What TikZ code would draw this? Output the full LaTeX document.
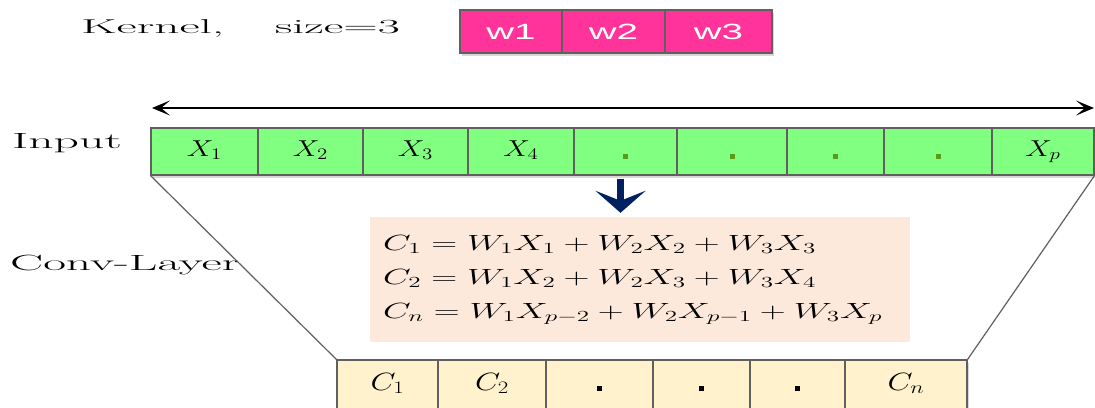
\RequirePackage{fix-cm}
\documentclass[tikz,border=0pt]{standalone}
\usepackage{fontspec}
\usepackage{graphicx}
\usepackage{tikz}
\usetikzlibrary{arrows.meta,positioning,shadows}
\newfontfamily\wfont{Liberation Sans}
\newcommand{\widen}[2]{\scalebox{#1}[1]{#2}}
\definecolor{Pink}{HTML}{FF3399}
\definecolor{Lime}{HTML}{80FF80}
\definecolor{Cream}{HTML}{FFF2CC}
\definecolor{Peach}{HTML}{FCE9DC}
\definecolor{Navy}{HTML}{002060}
\definecolor{Edge}{HTML}{606060}
\definecolor{Dot}{HTML}{5A9A1A}

\begin{document}
\begin{tikzpicture}[x=1pt,y=-1pt,
  cell/.style={rectangle,draw=Edge,line width=1.1pt,inner sep=0pt,drop shadow={opacity=0.3,shadow xshift=2pt,shadow yshift=-2.5pt}},
  wcell/.style={cell,fill=Pink,minimum height=43pt,text=white,font=\wfont\fontsize{22}{25}\selectfont},
  xcell/.style={cell,fill=Lime,minimum height=47pt,text height=16pt,text depth=6pt,font=\fontsize{23}{27}\selectfont},
  ccell/.style={cell,fill=Cream,minimum height=50pt,text height=16pt,text depth=6pt,font=\fontsize{25}{29}\selectfont},
  tag/.style={anchor=base west,inner sep=0pt,font=\fontsize{22}{26}\selectfont},
  eq/.style={anchor=base west,inner sep=0pt,font=\fontsize{22}{26}\selectfont},
  extent/.style={draw=black,line width=2.6pt,{Stealth[length=18pt,width=15pt,inset=9pt]}-{Stealth[length=18pt,width=15pt,inset=9pt]}},
  down/.style={draw=Navy,line width=6.5pt,-{Stealth[length=22pt,width=50pt,inset=10pt]}},
  side/.style={draw=Edge,line width=1.2pt}
]
\path[use as bounding box,fill=white] (0,0) rectangle (1095,407);

% kernel
\node[tag,font=\fontsize{20}{24}\selectfont] (kern) at (81,33) {\widen{2.47}{Kernel,}};
\node[tag,font=\fontsize{20}{24}\selectfont] (ksize) at (275,33) {\widen{2.4}{size=3}};
\foreach \i/\a/\b in {1/460/562,2/562/665,3/665/772} {
  \node[wcell,minimum width={(\b-\a)*1pt}] (w\i) at ({(\a+\b)/2},31.5) {\widen{1.75}{w\i}};
}

% input sequence
\coordinate (aL) at (152,108);
\coordinate (aR) at (1094,108);
\draw[extent] (aL) -- (aR);
\node[tag] (inp) at (12,148) {\widen{2.25}{Input}};
\foreach \i/\a/\b/\txt in {1/151/258/{\widen{1.3}{$X_1$}},2/258/363/{\widen{1.3}{$X_2$}},
    3/363/468/{\widen{1.3}{$X_3$}},4/468/574/{\widen{1.3}{$X_4$}},
    5/574/677/{\color{Dot}\rule[-2pt]{5pt}{5pt}},6/677/787/{\color{Dot}\rule[-2pt]{5pt}{5pt}},
    7/787/884/{\color{Dot}\rule[-2pt]{5pt}{5pt}},8/884/992/{\color{Dot}\rule[-2pt]{5pt}{5pt}},
    9/992/1094/{\widen{1.3}{$X_p$}}} {
  \node[xcell,minimum width={(\b-\a)*1pt}] (x\i) at ({(\a+\b)/2},151.5) {\txt};
}

% convolution
\node[tag] (conv) at (10,270) {\widen{2.25}{Conv-Layer}};
\node[fill=Peach,minimum width=540pt,minimum height=125pt,inner sep=0pt] (eqbox) at (640,279.5) {};
\node[eq] (eq1) at (383,250) {\widen{1.63}{$C_1 = W_1X_1 + W_2X_2 + W_3X_3$}};
\node[eq] (eq2) at (383,284) {\widen{1.63}{$C_2 = W_1X_2 + W_2X_3 + W_3X_4$}};
\node[eq] (eq3) at (383,318) {\widen{1.63}{$C_n = W_1X_{p-2} + W_2X_{p-1} + W_3X_p$}};
\draw[down] ([xshift=-5pt,yshift=-3pt]x5.south) -- ([xshift=-5pt,yshift=4pt]x5.south |- eqbox.north);

\foreach \i/\a/\b/\txt in {1/337/438/{\widen{1.3}{$C_1$}},2/438/546/{\widen{1.3}{$C_2$}},
    3/546/653/{\rule[-1pt]{5pt}{5pt}},4/653/750/{\rule[-1pt]{5pt}{5pt}},
    5/750/845/{\rule[-1pt]{5pt}{5pt}},6/845/967/{\widen{1.3}{$C_n$}}} {
  \node[ccell,minimum width={(\b-\a)*1pt}] (c\i) at ({(\a+\b)/2},385) {\txt};
}
\draw[side] (x1.south west) -- (c1.north west);
\draw[side] (x9.south east) -- (c6.north east);
\end{tikzpicture}
\end{document}
